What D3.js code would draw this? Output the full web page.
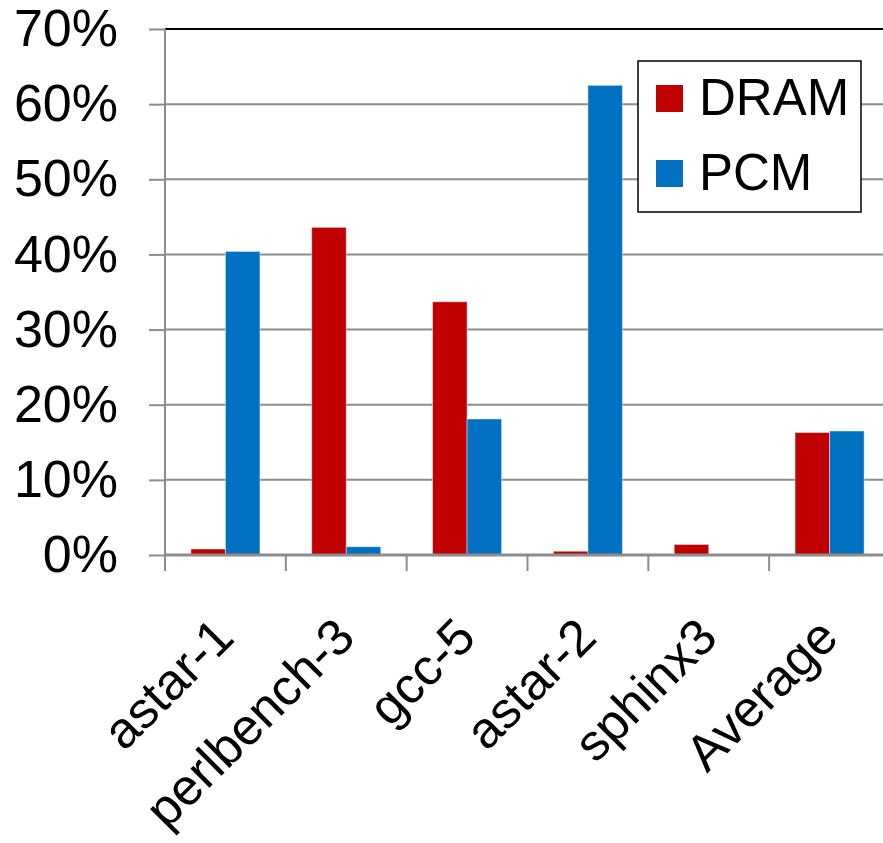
<!DOCTYPE html>
<html>
<head>
<meta charset="utf-8">
<script src="https://cdn.jsdelivr.net/npm/d3@7"></script>
<style>
  body { margin: 0; background: #fff; }
  svg { display: block; font-family: Arial, "Liberation Sans", sans-serif; }
</style>
</head>
<body>
<div id="chart"></div>
<script>
// ---- Data ----
const categories = ['astar-1', 'perlbench-3', 'gcc-5', 'astar-2', 'sphinx3', 'Average'];
const series = ['DRAM', 'PCM'];
const dramValues = [0.008, 0.436, 0.337, 0.005, 0.014, 0.163];
const pcmValues = [0.404, 0.011, 0.181, 0.625, 0, 0.165];
const yTicks = [0, 0.1, 0.2, 0.3, 0.4, 0.5, 0.6, 0.7];
const colors = { DRAM: '#C00000', PCM: '#0070C0' };

const width = 883, height = 843;
const plot = { left: 165, right: 890, top: 29, bottom: 555 };

const svg = d3.select('#chart').append('svg')
  .attr('width', width).attr('height', height);

// ---- Scales ----
const x0 = d3.scaleBand().domain(categories).range([plot.left, plot.right]).padding(0);
const x1 = d3.scaleBand().domain(series).range([0, x0.bandwidth()])
  .paddingInner(0).paddingOuter(0.75);
const y = d3.scaleLinear().domain([0, 0.7]).range([plot.bottom, plot.top]);

const gridColor = '#8c8c8c';

// ---- Grid lines ----
svg.append('g')
  .selectAll('line').data(yTicks.filter(d => d > 0 && d < 0.7)).join('line')
  .attr('x1', plot.left).attr('x2', plot.right)
  .attr('y1', d => y(d)).attr('y2', d => y(d))
  .attr('stroke', gridColor).attr('stroke-width', 2);

// top border of plot
svg.append('line')
  .attr('x1', plot.left).attr('x2', plot.right)
  .attr('y1', y(0.7)).attr('y2', y(0.7))
  .attr('stroke', '#000').attr('stroke-width', 2);

// ---- Y axis ----
const yAxis = d3.axisLeft(y)
  .tickValues(yTicks)
  .tickFormat(d3.format('.0%'))
  .tickSize(16)
  .tickPadding(31);

svg.append('g')
  .attr('transform', `translate(${plot.left},0)`)
  .call(yAxis)
  .call(g => g.select('.domain').remove())
  .call(g => g.selectAll('.tick line').attr('stroke', gridColor).attr('stroke-width', 2))
  .call(g => g.selectAll('.tick text')
    .attr('font-size', 52).attr('fill', '#000')
    .attr('font-family', 'Arial, "Liberation Sans", sans-serif'));

svg.append('line')
  .attr('x1', plot.left).attr('x2', plot.left)
  .attr('y1', plot.top).attr('y2', plot.bottom + 16)
  .attr('stroke', gridColor).attr('stroke-width', 2);

// ---- Bars ----
const rows = categories.map((c, i) => ({ cat: c, DRAM: dramValues[i], PCM: pcmValues[i] }));

svg.append('g')
  .selectAll('g').data(rows).join('g')
  .attr('transform', d => `translate(${x0(d.cat)},0)`)
  .selectAll('rect')
  .data(d => series.map(s => ({ key: s, value: d[s] })).filter(d => d.value > 0))
  .join('rect')
  .attr('x', d => x1(d.key))
  .attr('width', x1.bandwidth())
  .attr('y', d => y(d.value))
  .attr('height', d => y(0) - y(d.value))
  .attr('fill', d => colors[d.key])
  .attr('stroke', 'rgba(255,255,255,0.45)')
  .attr('stroke-width', 1);

// ---- X axis ----
svg.append('line')
  .attr('x1', plot.left).attr('x2', plot.right)
  .attr('y1', plot.bottom).attr('y2', plot.bottom)
  .attr('stroke', gridColor).attr('stroke-width', 3);

const boundaries = categories.map(c => x0(c)).concat([plot.right]);
svg.append('g')
  .selectAll('line').data(boundaries).join('line')
  .attr('x1', d => d).attr('x2', d => d)
  .attr('y1', plot.bottom).attr('y2', plot.bottom + 16)
  .attr('stroke', gridColor).attr('stroke-width', 2);

svg.append('g')
  .selectAll('text').data(categories).join('text')
  .attr('transform', d => `translate(${x0(d) + x0.bandwidth() / 2 + 11},640) rotate(-45)`)
  .attr('text-anchor', 'end')
  .attr('font-size', 51)
  .attr('fill', '#000')
  .text(d => d);

// ---- Legend ----
const legend = svg.append('g').attr('transform', 'translate(638,61)');
legend.append('rect')
  .attr('width', 223).attr('height', 151)
  .attr('fill', '#fff').attr('stroke', '#000').attr('stroke-width', 1.5);

const item = legend.selectAll('g.item').data(series).join('g')
  .attr('class', 'item')
  .attr('transform', (d, i) => `translate(0,${i * 75})`);
item.append('rect')
  .attr('x', 18).attr('y', 24)
  .attr('width', 27).attr('height', 27)
  .attr('fill', d => colors[d]);
item.append('text')
  .attr('x', 61).attr('y', 54)
  .attr('font-size', 51)
  .attr('fill', '#000')
  .text(d => d);
</script>
</body>
</html>
